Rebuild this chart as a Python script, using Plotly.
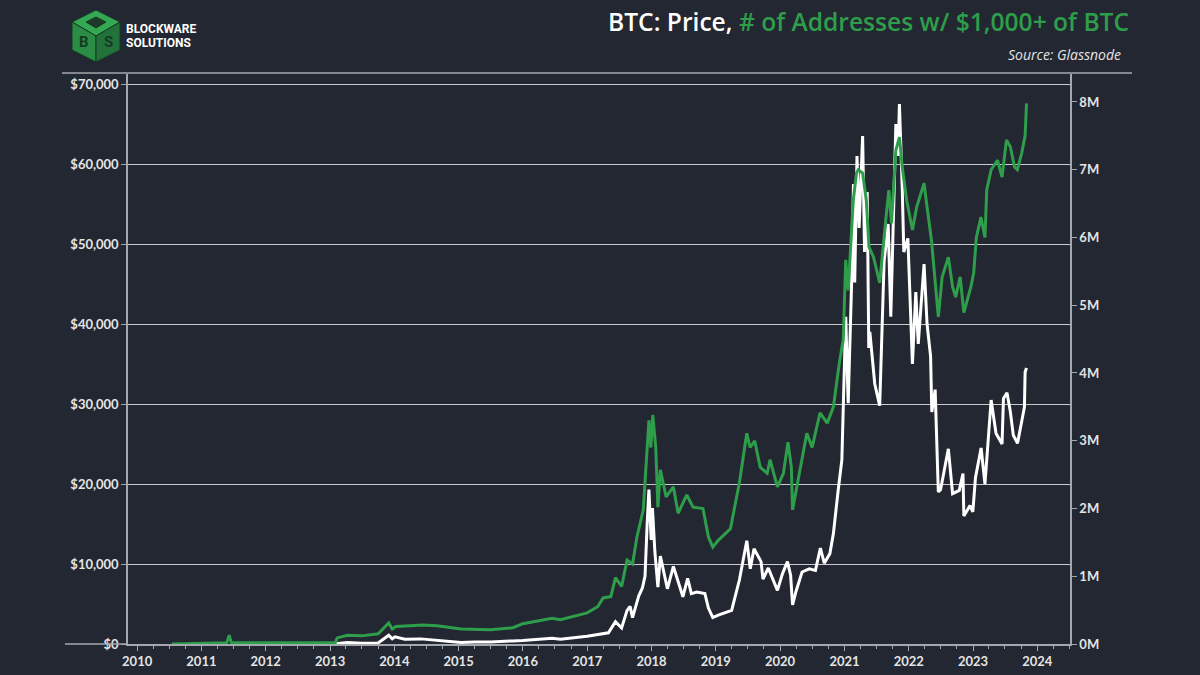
import plotly.graph_objects as go

# ---------------- data ----------------
price_dates = [
    "2013-02-01", "2013-04-10", "2013-07-01", "2013-10-01", "2013-11-30", "2013-12-20",
    "2014-01-05", "2014-03-01", "2014-06-01", "2014-09-01", "2014-12-01",
    "2015-01-15", "2015-04-01", "2015-07-01", "2015-11-05",
    "2016-01-01", "2016-06-15", "2016-08-01", "2016-12-31",
    "2017-03-01", "2017-05-01", "2017-06-10", "2017-07-15", "2017-08-15", "2017-09-01",
    "2017-09-15", "2017-10-20", "2017-11-10", "2017-11-25", "2017-12-07", "2017-12-17",
    "2017-12-30", "2018-01-06", "2018-01-20", "2018-02-06", "2018-02-20", "2018-03-10",
    "2018-04-01", "2018-05-05", "2018-06-28", "2018-07-25", "2018-08-15", "2018-09-15",
    "2018-10-31", "2018-11-20", "2018-12-15",
    "2019-01-15", "2019-02-20", "2019-04-01", "2019-05-15", "2019-06-26", "2019-07-16",
    "2019-08-06", "2019-09-15", "2019-09-26", "2019-10-26", "2019-12-17",
    "2020-01-15", "2020-02-12", "2020-03-01", "2020-03-12", "2020-04-01", "2020-05-05",
    "2020-06-15", "2020-07-20", "2020-08-17", "2020-09-08", "2020-10-10", "2020-10-30",
    "2020-11-25", "2020-12-17",
    "2021-01-08", "2021-01-22", "2021-02-10", "2021-02-21", "2021-02-28", "2021-03-13",
    "2021-03-25", "2021-04-14", "2021-04-25", "2021-05-10", "2021-05-19", "2021-05-25",
    "2021-06-22", "2021-07-20", "2021-08-14", "2021-09-06", "2021-09-21", "2021-10-20",
    "2021-11-01", "2021-11-09", "2021-11-25", "2021-12-04", "2021-12-27",
    "2022-01-22", "2022-02-10", "2022-02-24", "2022-03-29", "2022-04-15", "2022-05-05",
    "2022-05-12", "2022-05-31", "2022-06-18", "2022-07-01", "2022-08-14", "2022-09-07",
    "2022-10-15", "2022-11-05", "2022-11-10", "2022-12-15", "2022-12-31",
    "2023-01-15", "2023-02-16", "2023-03-10", "2023-04-14", "2023-05-12", "2023-06-15",
    "2023-06-23", "2023-07-13", "2023-07-31", "2023-08-18", "2023-09-11", "2023-10-02",
    "2023-10-20", "2023-10-24", "2023-11-01",
]
price_values = [
    20, 200, 90, 130, 1100, 650,
    900, 600, 640, 480, 370,
    200, 240, 260, 390,
    430, 720, 600, 960,
    1200, 1400, 2800, 2000, 4200, 4700,
    3300, 6000, 7000, 8500, 15000, 19300,
    13000, 17000, 11500, 7100, 11000, 9200,
    6900, 9700, 5900, 8200, 6300, 6500,
    6300, 4500, 3300,
    3600, 3900, 4200, 8000, 12900, 9400,
    11900, 10300, 8100, 9500, 6700,
    8800, 10300, 8600, 4900, 6600, 9000,
    9400, 9200, 12000, 10100, 11300, 13800,
    19000, 23000,
    40900, 30100, 44800, 57500, 45200, 61000,
    52000, 63500, 49000, 56500, 37000, 39000,
    32500, 29800, 47800, 52500, 40900, 65000,
    61000, 67500, 57000, 49000, 50700,
    35000, 44000, 37500, 47500, 40000, 36000,
    29000, 31800, 19000, 19300, 24400, 18800,
    19200, 21300, 16000, 17300, 16500,
    20800, 24500, 20000, 30500, 26300, 25000,
    30700, 31400, 29200, 26100, 25100, 27800,
    29600, 34000, 34500,
]

addr_dates = [
    "2010-07-17", "2011-05-25", "2011-06-08", "2011-06-20", "2012-06-01", "2013-01-31",
    "2013-02-10", "2013-04-10", "2013-07-01", "2013-10-01", "2013-11-30", "2013-12-20",
    "2014-01-10", "2014-06-15", "2014-09-01", "2015-01-15", "2015-07-01", "2015-11-05",
    "2016-01-01", "2016-06-15", "2016-08-01", "2016-12-31",
    "2017-03-01", "2017-04-01", "2017-05-15", "2017-06-10", "2017-07-15", "2017-08-15",
    "2017-09-15", "2017-10-10", "2017-11-15", "2017-12-10", "2017-12-17", "2017-12-28",
    "2018-01-08", "2018-01-25", "2018-02-06", "2018-02-20", "2018-03-25", "2018-05-05",
    "2018-06-01", "2018-07-20", "2018-08-25", "2018-10-20", "2018-11-20", "2018-12-15",
    "2019-01-15", "2019-03-25", "2019-05-15", "2019-06-26", "2019-07-15", "2019-08-10",
    "2019-09-10", "2019-10-20", "2019-11-05", "2019-12-17",
    "2020-01-20", "2020-02-15", "2020-03-05", "2020-03-12", "2020-04-20", "2020-06-01",
    "2020-07-01", "2020-08-15", "2020-09-25", "2020-10-30", "2020-12-05", "2020-12-25",
    "2021-01-08", "2021-01-22", "2021-02-20", "2021-03-10", "2021-03-20", "2021-04-14",
    "2021-05-05", "2021-05-20", "2021-06-15", "2021-07-20", "2021-08-25", "2021-09-10",
    "2021-09-25", "2021-10-20", "2021-11-09", "2021-11-25", "2021-12-20",
    "2022-01-22", "2022-02-15", "2022-03-29", "2022-04-15", "2022-05-10", "2022-06-18",
    "2022-07-10", "2022-08-14", "2022-09-07", "2022-09-25", "2022-10-20", "2022-11-10",
    "2022-12-20",
    "2023-01-05", "2023-01-20", "2023-02-15", "2023-03-10", "2023-03-20", "2023-04-14",
    "2023-05-20", "2023-06-15", "2023-07-10", "2023-08-01", "2023-08-25", "2023-09-10",
    "2023-10-05", "2023-10-24", "2023-11-01",
]
addr_values_m = [
    0.0, 0.02, 0.13, 0.02, 0.02, 0.02,
    0.09, 0.13, 0.12, 0.15, 0.31, 0.22,
    0.26, 0.28, 0.27, 0.22, 0.21, 0.24,
    0.30, 0.38, 0.36, 0.46,
    0.55, 0.68, 0.70, 0.98, 0.85, 1.24,
    1.18, 1.58, 1.98, 3.10, 3.30, 2.90,
    3.38, 2.90, 2.02, 2.57, 2.17, 2.32,
    1.93, 2.20, 2.02, 2.00, 1.58, 1.43,
    1.53, 1.70, 2.38, 3.11, 2.90, 3.00,
    2.61, 2.52, 2.72, 2.32,
    2.52, 2.98, 2.61, 1.98, 2.52, 3.11,
    2.90, 3.41, 3.26, 3.50, 4.19, 4.49,
    5.67, 5.22, 6.55, 6.95, 7.00, 6.95,
    6.55, 5.86, 5.71, 5.33, 6.30, 6.70,
    6.21, 7.29, 7.48, 7.04, 6.55,
    6.11, 6.45, 6.80, 6.45, 5.96, 4.83,
    5.42, 5.71, 5.27, 5.12, 5.42, 4.89,
    5.27,
    5.48, 6.00, 6.30, 6.00, 6.70, 7.00,
    7.14, 6.89, 7.44, 7.34, 7.04, 7.00,
    7.25, 7.50, 7.98,
]

year_labels = [str(y) for y in range(2010, 2025)]
price_ticks = [0, 10000, 20000, 30000, 40000, 50000, 60000, 70000]
price_tick_text = ["$" + f"{v:,}" for v in price_ticks]
addr_ticks_m = [0, 1, 2, 3, 4, 5, 6, 7, 8]
addr_tick_text = [f"{v}M" for v in addr_ticks_m]

# ---------------- styling ----------------
BG = "#222732"
GREEN = "#2e9e4a"
AXIS = "#a3a7ae"
GRID = "#c9cbcf"
TXT = "#e4e4e4"

L, R, T, B = 128, 130, 74, 31
W, H = 1200, 675
PW, PH = W - L - R, H - T - B


def px(x):
    return (x - L) / PW


def py(y):
    return (H - B - y) / PH


fig = go.Figure()
fig.add_trace(go.Scatter(x=addr_dates, y=addr_values_m, mode="lines", yaxis="y2",
                         line=dict(color=GREEN, width=3), hoverinfo="skip", showlegend=False))
fig.add_trace(go.Scatter(x=price_dates, y=price_values, mode="lines", yaxis="y",
                         line=dict(color="#ffffff", width=3), hoverinfo="skip", showlegend=False))

tickfont = dict(family="Lato", size=13, color=TXT, weight="bold")

fig.update_layout(
    width=W, height=H,
    margin=dict(l=L, r=R, t=T, b=B, pad=0, autoexpand=False),
    paper_bgcolor=BG, plot_bgcolor=BG,
    font=dict(family="Lato", color=TXT),
    xaxis=dict(
        type="date", range=["2009-11-10", "2024-07-05"], automargin=False,
        tickmode="array", tickvals=[f"{y}-01-01" for y in year_labels], ticktext=year_labels,
        showgrid=False, zeroline=False, showline=True, linecolor=AXIS, linewidth=1.5,
        ticks="outside", ticklen=5, tickcolor=AXIS, tickfont=tickfont,
        minor=dict(ticks="outside", ticklen=3, tickcolor=AXIS, dtick="M3",
                   tick0="2010-01-01", showgrid=False),
    ),
    yaxis=dict(
        range=[0, 71250], automargin=False, tickmode="array",
        tickvals=price_ticks, ticktext=price_tick_text,
        showgrid=True, gridcolor=GRID, gridwidth=1, zeroline=False,
        showline=True, linecolor=AXIS, linewidth=1.5,
        ticks="outside", ticklen=5, tickcolor=AXIS, tickfont=tickfont,
    ),
    yaxis2=dict(
        range=[0, 8.413], overlaying="y", side="right", anchor="x", automargin=False,
        tickmode="array", tickvals=addr_ticks_m, ticktext=addr_tick_text,
        showgrid=False, zeroline=False, showline=True, linecolor=AXIS, linewidth=1.5,
        ticks="outside", ticklen=5, tickcolor=AXIS, tickfont=tickfont,
    ),
)

shapes = []
# top separator line
shapes.append(dict(type="line", xref="paper", yref="paper", x0=px(62), x1=px(1132),
                   y0=py(73), y1=py(73), line=dict(color=AXIS, width=1.5)))
# x-axis extension to the left of the price axis
shapes.append(dict(type="line", xref="paper", yref="paper", x0=px(65), x1=0,
                   y0=py(644), y1=py(644), line=dict(color=AXIS, width=1.5)))

# logo cube
cx, top, bot, lft, rgt, mid_up, mid_lo = 96, 10, 62, 72, 120, 22, 50
cy = 36


def path(pts):
    return "M " + " L ".join(f"{px(a)},{py(b)}" for a, b in pts) + " Z"


shapes.append(dict(type="path", xref="paper", yref="paper",
                   path=path([(cx, top), (rgt, mid_up), (cx, cy), (lft, mid_up)]),
                   fillcolor="#34a853", line=dict(color="#173a24", width=1)))
shapes.append(dict(type="path", xref="paper", yref="paper",
                   path=path([(lft, mid_up), (cx, cy), (cx, bot), (lft, mid_lo)]),
                   fillcolor="#2a8c45", line=dict(color="#173a24", width=1)))
shapes.append(dict(type="path", xref="paper", yref="paper",
                   path=path([(cx, cy), (rgt, mid_up), (rgt, mid_lo), (cx, bot)]),
                   fillcolor="#21733a", line=dict(color="#173a24", width=1)))
shapes.append(dict(type="path", xref="paper", yref="paper",
                   path=path([(cx, 17), (106, 22), (cx, 28), (86, 22)]),
                   fillcolor="#1d3a29", line=dict(color="#173a24", width=1)))
fig.update_layout(shapes=shapes)

annotations = [
    dict(xref="paper", yref="paper", x=px(1131), y=py(22), xanchor="right", yanchor="middle",
         showarrow=False,
         text="BTC: Price, <span style='color:%s'># of Addresses w/ $1,000+ of BTC</span>" % GREEN,
         font=dict(family="Open Sans", size=24.6, color="#ffffff", weight=600)),
    dict(xref="paper", yref="paper", x=px(1123), y=py(55), xanchor="right", yanchor="middle",
         showarrow=False, text="<i>Source: Glassnode</i>",
         font=dict(family="Open Sans", size=14, color=TXT)),
    dict(xref="paper", yref="paper", x=px(124), y=py(29), xanchor="left", yanchor="middle",
         showarrow=False, text="<b>BLOCKWARE</b>",
         font=dict(family="Roboto", size=12, color="#ffffff")),
    dict(xref="paper", yref="paper", x=px(124), y=py(43), xanchor="left", yanchor="middle",
         showarrow=False, text="<b>SOLUTIONS</b>",
         font=dict(family="Roboto", size=12, color="#ffffff")),
    dict(xref="paper", yref="paper", x=px(84), y=py(42), xanchor="center", yanchor="middle",
         showarrow=False, text="<b>B</b>", font=dict(family="Roboto", size=15, color="#173a24")),
    dict(xref="paper", yref="paper", x=px(108), y=py(42), xanchor="center", yanchor="middle",
         showarrow=False, text="<b>S</b>", font=dict(family="Roboto", size=15, color="#173a24")),
]
fig.update_layout(annotations=annotations)

fig.write_html("out.html", config={"displayModeBar": False},
               post_script="document.body.style.margin='0';document.body.style.background='#222732';")
